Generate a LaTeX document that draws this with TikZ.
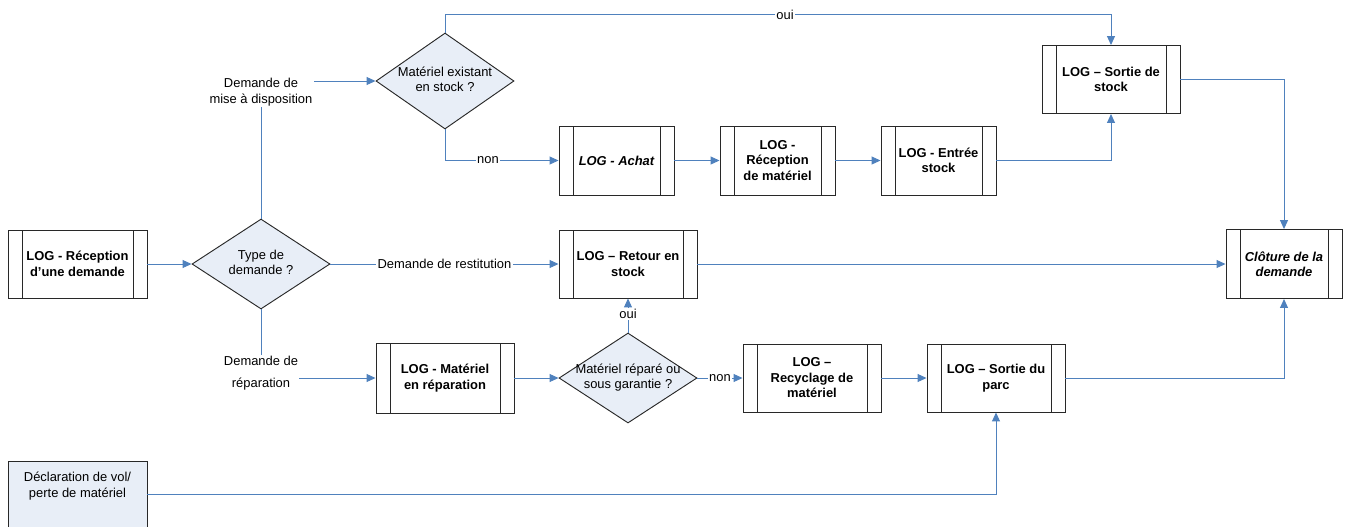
\documentclass[tikz,border=0pt]{standalone}
\usepackage{fontspec}
\setmainfont{Liberation Sans}
\usetikzlibrary{shapes.geometric,arrows.meta}

\definecolor{flowblue}{RGB}{79,129,189}
\definecolor{decfill}{RGB}{232,238,247}
\definecolor{edgegray}{RGB}{40,40,40}

% text of a decision diamond: takes no room, so the diamond keeps its own size
\newcommand{\dtext}[1]{\smash{\raisebox{-2.4pt}{\makebox[0pt]{\begin{tabular}{@{}c@{}}#1\end{tabular}}}}}

\tikzset{
  basefont/.style={font=\fontsize{9.7}{11.6}\selectfont},
  proc/.style={rectangle, draw=edgegray, fill=white, line width=0.7pt,
    minimum width=103.5pt, minimum height=51pt, inner sep=2pt, align=center,
    font=\fontsize{9.7}{11.6}\selectfont\bfseries,
    path picture={
      \draw[edgegray, line width=0.7pt]
        ([xshift=10.5pt]path picture bounding box.north west) --
        ([xshift=10.5pt]path picture bounding box.south west);
      \draw[edgegray, line width=0.7pt]
        ([xshift=-10.5pt]path picture bounding box.north east) --
        ([xshift=-10.5pt]path picture bounding box.south east);}},
  decision/.style={shape=diamond, draw=edgegray, fill=decfill, line width=0.7pt,
    inner sep=0pt, minimum width=103.5pt, minimum height=67.5pt, basefont},
  flow/.style={draw=flowblue, line width=0.75pt,
    -{Triangle[length=6.75pt,width=6pt]}},
  lbl/.style={fill=white, inner sep=1pt, align=center, basefont}
}

\begin{document}
\begin{tikzpicture}[x=0.75pt, y=-0.75pt]
\useasboundingbox (0,0) rectangle (1348,526);

% process steps
\node[proc, minimum width=104.25pt] (recep) at (77.5,264) {LOG - Réception\\d’une demande};
\node[proc, minimum width=86.25pt, minimum height=51.75pt] (achat) at (616.5,160.5) {\itshape LOG - Achat};
\node[proc, minimum width=86.25pt, minimum height=51.75pt] (recmat) at (777.5,160.5) {LOG -\\Réception\\de matériel};
\node[proc, minimum width=86.25pt, minimum height=51.75pt] (entree) at (938.5,160.5) {LOG - Entrée\\stock};
\node[proc] (sortstock) at (1111,79.5) {LOG – Sortie de\\stock};
\node[proc, minimum width=87pt, minimum height=51.75pt] (cloture) at (1284,264) {\itshape Clôture de la\\\itshape demande};
\node[proc] (retour) at (628,264) {LOG – Retour en\\stock};
\node[proc, minimum height=52.5pt] (matrep) at (445,378) {LOG - Matériel\\en réparation};
\node[proc] (recyc) at (812,378) {LOG –\\Recyclage de\\matériel};
\node[proc] (sortparc) at (996,378) {LOG – Sortie du\\parc};

% decisions
\node[decision] (type) at (261,264) {\dtext{Type de\\demande ?}};
\node[decision, minimum height=72pt] (exist) at (445,81) {\dtext{Matériel existant\\en stock ?}};
\node[decision] (repare) at (628,378) {\dtext{Matériel réparé ou\\sous garantie ?}};

% external event
\node[rectangle, draw=edgegray, fill=decfill, line width=0.7pt,
      minimum width=104.25pt, minimum height=49.5pt, inner sep=0pt] (decl) at (77.5,494) {};
\node[basefont, align=center, inner sep=0pt] (decltext) at (77.5,486) {Déclaration de vol/\\perte de matériel};

% connectors
\draw[flow] (recep) -- (type);
\draw[flow] (type.north) |- (exist.west);
\draw[flow] (exist.north) -- ++(0,-18) -| (sortstock.north);
\draw[flow] (exist.south) |- (achat.west);
\draw[flow] (achat) -- (recmat);
\draw[flow] (recmat) -- (entree);
\draw[flow] (entree.east) -| (sortstock.south);
\draw[flow] (sortstock.east) -| (cloture.north);
\draw[flow] (type.east) -- (retour.west) node[lbl, midway] (lrest) {Demande de restitution};
\draw[flow] (retour.east) -- (cloture.west);
\draw[flow] (type.south) |- (matrep.west);
\draw[flow] (matrep) -- (repare);
\draw[flow] (repare.north) -- (retour.south);
\draw[flow] (repare.east) -- (recyc.west);
\draw[flow] (recyc) -- (sortparc);
\draw[flow] (sortparc.east) -| (cloture.south);
\draw[flow] (decl.east) -| (sortparc.south);

% connector labels
\node[lbl] (ldispo) at (261,92) {Demande de\\mise à disposition};
\node[lbl] (lrepar) at (261,373.5) {Demande de\\[5pt]réparation};
\node[lbl] (lexoui) at (785,15) {oui};
\node[lbl] (lexnon) at (488,160) {non};
\node[lbl] (lrpoui) at (628,314) {oui};
\node[lbl] (lrpnon) at (720,378) {non};
\end{tikzpicture}
\end{document}
